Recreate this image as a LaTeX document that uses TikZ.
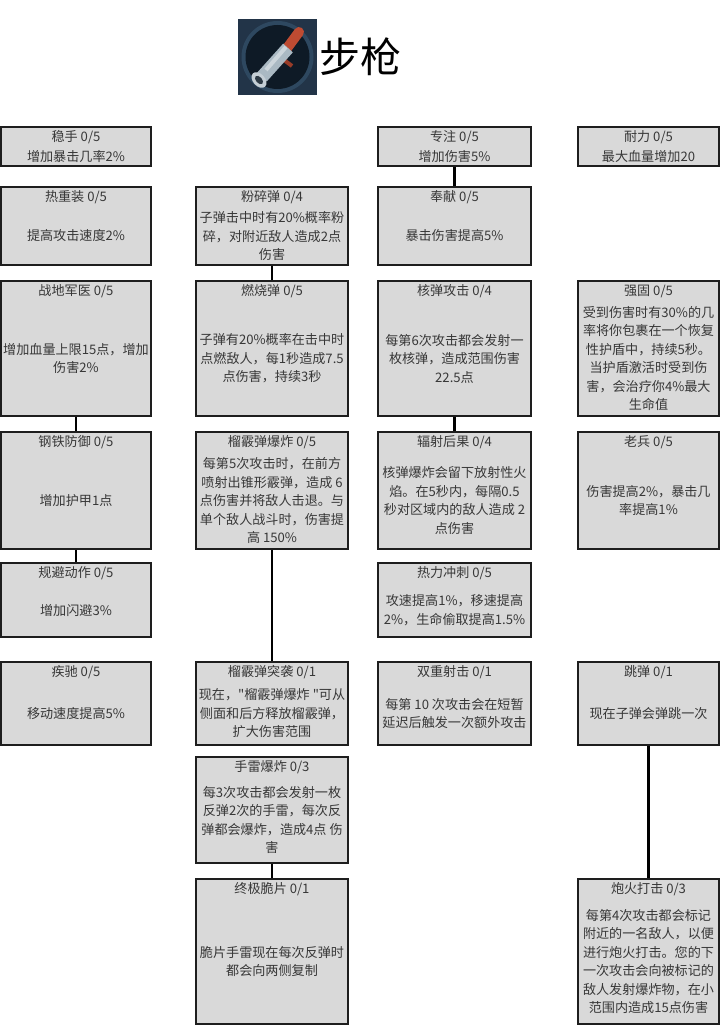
\documentclass[tikz,border=0pt]{standalone}
\usepackage{fontspec}
\newfontfamily\cjk{Noto Sans CJK SC}
\usetikzlibrary{fit}
\definecolor{boxfill}{RGB}{217,217,217}
\definecolor{boxline}{RGB}{30,30,30}
\definecolor{textgray}{RGB}{55,55,55}
\definecolor{iconbg}{RGB}{34,52,72}
\definecolor{iconrim}{RGB}{46,72,96}
\definecolor{iconcore}{RGB}{14,26,38}
\definecolor{gunsteel}{RGB}{170,185,195}
\definecolor{gunred}{RGB}{190,75,50}
% box = name, x1, y1, x2, y2, title, text
\newcommand\skill[7]{%
  \node[skillbox, fit={(#2,#3) (#4,#5)}] (#1) {};
  \node[skilltitle] (#1-t) at ([yshift=-11pt]#1.north) {#6};
  \node[skilltext] (#1-b) at ([yshift=-10pt]#1.center) {#7};
}
\begin{document}
\begin{tikzpicture}[x=1pt, y=-1pt,
    skillbox/.style={draw=boxline, fill=boxfill, line width=1.6pt, inner sep=0pt},
    skilltitle/.style={font=\cjk\fontsize{13.1}{18.5}\selectfont, text=textgray, inner sep=0pt},
    skilltext/.style={font=\cjk\fontsize{13.1}{18.5}\selectfont, text=textgray, align=center, inner sep=0pt},
    link/.style={line width=2.6pt, black}]
  \useasboundingbox (0,0) rectangle (720,1027);
  % header
  \fill[iconbg] (238,19) rectangle (317,95);
  \fill[iconrim] (277.5,57) circle[radius=36pt];
  \fill[iconcore] (277.5,57) circle[radius=32pt];
  \draw[gunred, line width=10pt, line cap=round] (282,55) -- (299,32);
  \draw[gunred!80!black, line width=4pt] (284,60) -- (292,66);
  \draw[gunsteel, line width=13pt] (262,77) -- (288,48);
  \draw[gunsteel!60!white, line width=4pt] (266,70) -- (286,47);
  \fill[gunsteel!70!white, rotate around={-48:(259,80)}] (259,80) ellipse[x radius=9pt, y radius=6pt];
  \fill[iconcore!80!gunsteel, rotate around={-48:(259,80)}] (259,80) ellipse[x radius=5pt, y radius=3pt];
  \node[font=\cjk\fontsize{41}{41}\selectfont, anchor=west, inner sep=1pt] (title) at (318,57) {步枪};
  % column 1
  \skill{wenshou}{1}{127}{151}{166}{稳手 0/5}{增加暴击几率2\%}
  \skill{rezhong}{1}{187}{151}{265}{热重装 0/5}{提高攻击速度2\%}
  \skill{junyi}{1}{281}{151}{416}{战地军医 0/5}{增加血量上限15点，增加\\伤害2\%}
  \skill{gangtie}{1}{432}{151}{549}{钢铁防御 0/5}{增加护甲1点}
  \skill{guibi}{1}{563}{151}{637}{规避动作 0/5}{增加闪避3\%}
  \skill{jichi}{1}{662}{151}{745}{疾驰 0/5}{移动速度提高5\%}
  % column 2
  \skill{fensui}{196}{187}{348}{265}{粉碎弹 0/4}{子弹击中时有20\%概率粉\\碎，对附近敌人造成2点\\伤害}
  \skill{ranshao}{196}{281}{348}{416}{燃烧弹 0/5}{子弹有20\%概率在击中时\\点燃敌人，每1秒造成7.5\\点伤害，持续3秒}
  \skill{liusan}{196}{432}{348}{549}{榴霰弹爆炸 0/5}{每第5次攻击时，在前方\\喷射出锥形霰弹，造成 6\\点伤害并将敌人击退。与\\单个敌人战斗时，伤害提\\高 150\%}
  \skill{tuxi}{196}{662}{348}{745}{榴霰弹突袭 0/1}{现在，"榴霰弹爆炸 "可从\\侧面和后方释放榴霰弹，\\扩大伤害范围}
  \skill{shoulei}{196}{757}{348}{863}{手雷爆炸 0/3}{每3次攻击都会发射一枚\\反弹2次的手雷，每次反\\弹都会爆炸，造成4点 伤\\害}
  \skill{cuipian}{196}{879}{348}{1024}{终极脆片 0/1}{脆片手雷现在每次反弹时\\都会向两侧复制}
  % column 3
  \skill{zhuanzhu}{378}{127}{531}{166}{专注 0/5}{增加伤害5\%}
  \skill{fengxian}{378}{187}{531}{265}{奉献 0/5}{暴击伤害提高5\%}
  \skill{hedan}{378}{281}{531}{416}{核弹攻击 0/4}{每第6次攻击都会发射一\\枚核弹，造成范围伤害\\22.5点}
  \skill{fushe}{378}{432}{531}{549}{辐射后果 0/4}{核弹爆炸会留下放射性火\\焰。在5秒内，每隔0.5\\秒对区域内的敌人造成 2\\点伤害}
  \skill{reli}{378}{563}{531}{637}{热力冲刺 0/5}{攻速提高1\%，移速提高\\2\%，生命偷取提高1.5\%}
  \skill{shuangchong}{378}{662}{531}{745}{双重射击 0/1}{每第 10 次攻击会在短暂\\延迟后触发一次额外攻击}
  % column 4
  \skill{naili}{578}{127}{719}{166}{耐力 0/5}{最大血量增加20}
  \skill{qianggu}{578}{281}{719}{416}{强固 0/5}{受到伤害时有30\%的几\\率将你包裹在一个恢复\\性护盾中，持续5秒。\\当护盾激活时受到伤\\害，会治疗你4\%最大\\生命值}
  \skill{laobing}{578}{432}{719}{549}{老兵 0/5}{伤害提高2\%，暴击几\\率提高1\%}
  \skill{tiaodan}{578}{662}{719}{745}{跳弹 0/1}{现在子弹会弹跳一次}
  \skill{paohuo}{578}{879}{719}{1024}{炮火打击 0/3}{每第4次攻击都会标记\\附近的一名敌人，以便\\进行炮火打击。您的下\\一次攻击会向被标记的\\敌人发射爆炸物，在小\\范围内造成15点伤害}
  % links
  \draw[link] (junyi.south) -- (gangtie.north);
  \draw[link] (gangtie.south) -- (guibi.north);
  \draw[link] (fensui.south) -- (ranshao.north);
  \draw[link] (liusan.south) -- (tuxi.north);
  \draw[link] (shoulei.south) -- (cuipian.north);
  \draw[link] (zhuanzhu.south) -- (fengxian.north);
  \draw[link] (hedan.south) -- (fushe.north);
  \draw[link] (tiaodan.south) -- (paohuo.north);
\end{tikzpicture}
\end{document}
